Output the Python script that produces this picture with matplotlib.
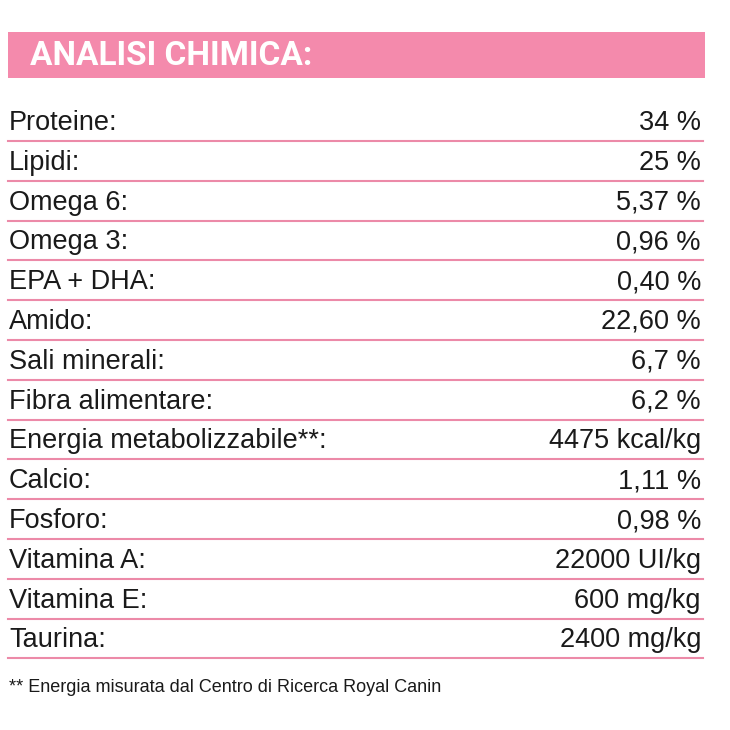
import matplotlib
matplotlib.use("Agg")
from matplotlib import pyplot as plt

labels = ["Proteine:", "Lipidi:", "Omega 6:", "Omega 3:", "EPA + DHA:", "Amido:",
          "Sali minerali:", "Fibra alimentare:", "Energia metabolizzabile**:",
          "Calcio:", "Fosforo:", "Vitamina A:", "Vitamina E:", "Taurina:"]
values = ["34 %", "25 %", "5,37 %", "0,96 %", "0,40 %", "22,60 %", "6,7 %", "6,2 %",
          "4475 kcal/kg", "1,11 %", "0,98 %", "22000 UI/kg", "600 mg/kg", "2400 mg/kg"]
title = "ANALISI CHIMICA:"
footnote = "** Energia misurata dal Centro di Ricerca Royal Canin"

pink = "#f48aac"
line_pink = "#ec8aa8"

fig = plt.figure(figsize=(7.3, 7.3), dpi=100)
ax = fig.add_axes([0, 0, 1, 1])
ax.set_xlim(0, 730)
ax.set_ylim(730, 0)
ax.axis("off")

# header bar
ax.add_patch(plt.Rectangle((8, 32), 697, 46, color=pink, lw=0))
ax.text(30, 56, title, color="white", fontsize=24, fontweight="bold",
        family="Roboto", va="center", ha="left")

y0 = 123
step = 39.8
for i, (lab, val) in enumerate(zip(labels, values)):
    y = y0 + i * step
    ax.text(9, y, lab, fontsize=19.5, family="Liberation Sans", va="center", ha="left", color="#1a1a1a")
    ax.text(701, y, val, fontsize=19.5, family="Liberation Sans", va="center", ha="right", color="#1a1a1a")
    ax.plot([8, 703], [y + 18, y + 18], color=line_pink, lw=1.5)

ax.text(9, 687, footnote, fontsize=13, family="Liberation Sans", va="center", ha="left",
        color="#1a1a1a")

fig.savefig("out.png", dpi=100, facecolor="white")
